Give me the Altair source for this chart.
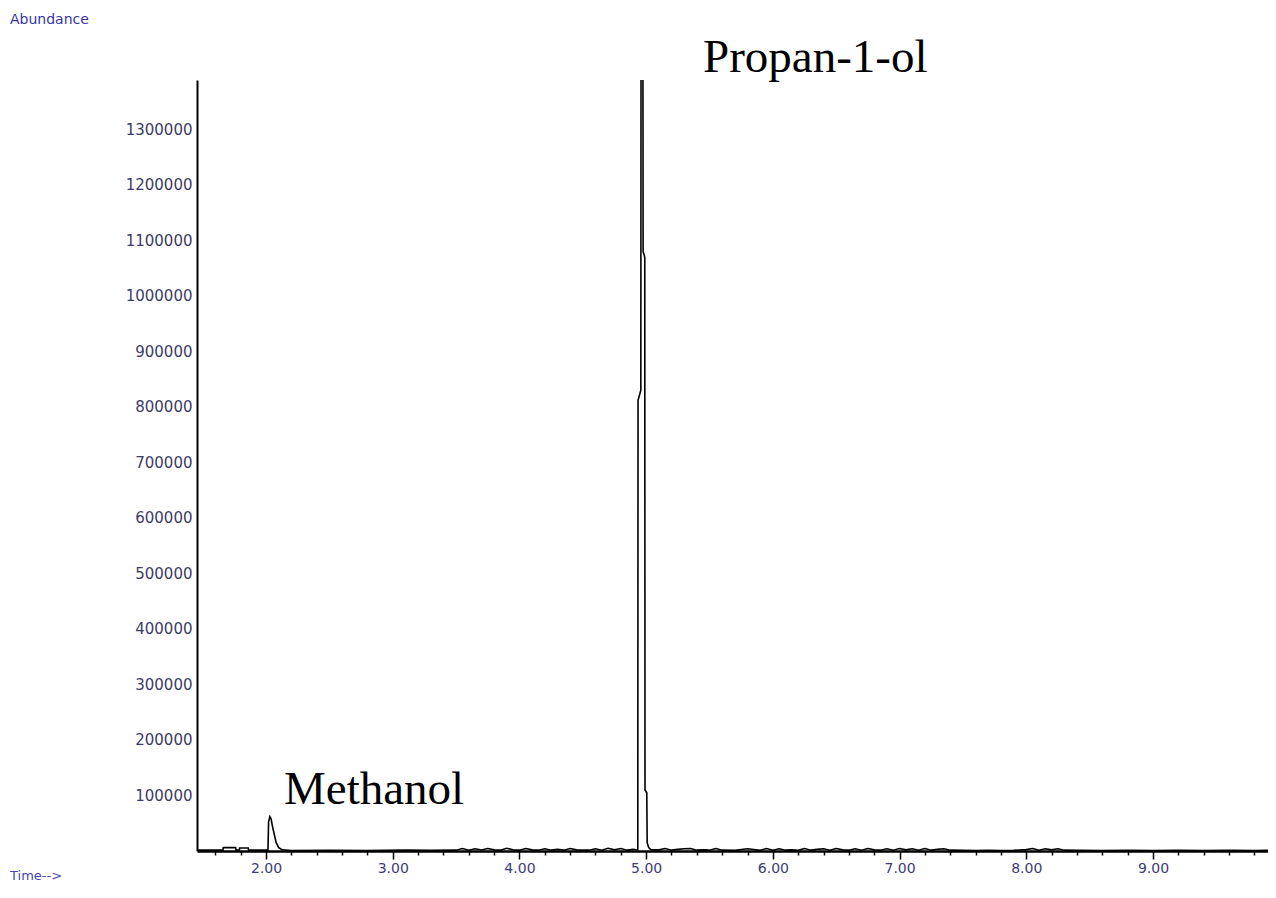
import altair as alt
import pandas as pd

# ---- chromatogram trace (retention time in min, abundance) ----
times = [
    1.455, 1.66, 1.662, 1.76, 1.762, 1.79, 1.792, 1.86, 1.862,
    2.015, 2.02, 2.03, 2.04, 2.05, 2.065, 2.08, 2.10, 2.13, 2.20,
    2.5, 2.8, 3.1, 3.3, 3.5, 3.55, 3.6, 3.65, 3.7, 3.75, 3.8, 3.85, 3.9, 3.95,
    4.0, 4.05, 4.1, 4.15, 4.2, 4.25, 4.3, 4.35, 4.4, 4.45, 4.5, 4.55, 4.6,
    4.65, 4.7, 4.75, 4.8, 4.85, 4.9, 4.934,
    4.936, 4.958, 4.960, 4.974, 4.976, 4.989, 4.991, 5.005, 5.008, 5.02, 5.04,
    5.1, 5.15, 5.2, 5.25, 5.3, 5.35, 5.4, 5.45, 5.5, 5.55, 5.6, 5.7, 5.8, 5.9,
    5.95, 6.0, 6.05, 6.1, 6.15, 6.2, 6.25, 6.3, 6.35, 6.4, 6.45, 6.5, 6.55,
    6.6, 6.65, 6.7, 6.75, 6.8, 6.85, 6.9, 6.95, 7.0, 7.05, 7.1, 7.15, 7.2,
    7.25, 7.3, 7.35, 7.4, 7.5, 7.6, 7.7, 7.8, 7.9, 8.0, 8.05, 8.1, 8.15, 8.2,
    8.25, 8.3, 8.4, 8.6, 8.8, 9.0, 9.2, 9.4, 9.6, 9.8, 9.97,
]
abundance = [
    1500, 1500, 6000, 6000, 1500, 1500, 5500, 5500, 1500,
    1500, 52000, 62000, 58000, 45000, 30000, 15000, 6000, 2000, 1000,
    1200, 1000, 1500, 1200, 1500, 4500, 1500, 4000, 1800, 4500, 2000, 1500, 5000, 2000,
    1500, 4500, 2000, 1500, 4000, 1500, 3000, 1500, 4500, 2000, 1500, 1500, 4000,
    1500, 5000, 2000, 4500, 1500, 3000, 1500,
    812000, 830000, 1600000, 1600000, 1080000, 1070000, 110000, 105000, 15000, 6000, 2000,
    2000, 4500, 1500, 3000, 4000, 4500, 1500, 2000, 1500, 4500, 1500, 1200, 4000, 1200,
    4500, 1500, 4000, 1500, 2000, 1200, 4500, 1500, 3000, 4000, 1500, 4500, 2000,
    1500, 4000, 1500, 4500, 2000, 1500, 4000, 1500, 4500, 2000, 4000, 1500, 4500,
    1500, 3000, 4000, 1500, 1200, 1000, 1200, 1000, 1200, 2500, 4500, 1500, 4000, 2000,
    4000, 1500, 1200, 1000, 1200, 1000, 1200, 1000, 1200, 1000, 1200,
]

# ---- axis ticks ----
x_tick_values = [
    1.6, 1.8, 2.0, 2.2, 2.4, 2.6, 2.8, 3.0, 3.2, 3.4, 3.6, 3.8, 4.0, 4.2, 4.4,
    4.6, 4.8, 5.0, 5.2, 5.4, 5.6, 5.8, 6.0, 6.2, 6.4, 6.6, 6.8, 7.0, 7.2, 7.4,
    7.6, 7.8, 8.0, 8.2, 8.4, 8.6, 8.8, 9.0, 9.2, 9.4, 9.6, 9.8,
]
y_tick_values = [100000, 200000, 300000, 400000, 500000, 600000, 700000,
                 800000, 900000, 1000000, 1100000, 1200000, 1300000]

# ---- peak annotations ----
peak_labels = ["Methanol", "Propan-1-ol"]
peak_label_time = [2.142, 5.449]
peak_label_abund = [83800, 1402700]

X_DOMAIN = [1.455, 9.908]
Y_DOMAIN = [0, 1389000]

trace = pd.DataFrame({"t": times, "a": abundance})
ann = pd.DataFrame({"label": peak_labels, "t": peak_label_time, "a": peak_label_abund})

is_major = "abs(datum.value - round(datum.value)) < 0.01"

x_enc = alt.X(
    "t:Q",
    scale=alt.Scale(domain=X_DOMAIN, nice=False, zero=False),
    axis=alt.Axis(
        title=None,
        values=x_tick_values,
        tickCount=200,
        labelExpr=f"{is_major} ? format(datum.value, '.2f') : ''",
        tickSize={"condition": {"test": is_major, "value": 8}, "value": 4},
        tickColor="black",
        tickWidth=1.5,
        domainColor="black",
        domainWidth=2.5,
        labelFont="DejaVu Sans",
        labelFontSize=14,
        labelColor="#3c3c78",
        labelPadding=2,
        labelOverlap=False,
        labelFlush=False,
        grid=False,
    ),
)
y_enc = alt.Y(
    "a:Q",
    scale=alt.Scale(domain=Y_DOMAIN, nice=False, zero=True),
    axis=alt.Axis(
        title=None,
        values=y_tick_values,
        tickCount=200,
        format="d",
        ticks=False,
        domainColor="black",
        domainWidth=2,
        labelFont="DejaVu Sans",
        labelFontSize=15,
        labelColor="#3c3c66",
        labelPadding=5,
        labelOverlap=False,
        grid=False,
    ),
)

line = alt.Chart(trace).mark_line(
    color="black", strokeWidth=1.6, clip=True, interpolate="linear"
).encode(x=x_enc, y=y_enc, order="t:Q")

labels = alt.Chart(ann).mark_text(
    font="Liberation Serif", fontSize=47, color="black",
    align="left", baseline="alphabetic",
).encode(x="t:Q", y="a:Q", text="label:N")

abund_title = alt.Chart(pd.DataFrame({"txt": ["Abundance"]})).mark_text(
    font="DejaVu Sans", fontSize=14, color="#3535a5",
    align="left", baseline="middle",
).encode(x=alt.value(-187), y=alt.value(-60), text="txt:N")

time_title = alt.Chart(pd.DataFrame({"txt": ["Time-->"]})).mark_text(
    font="DejaVu Sans", fontSize=13, color="#4545b5",
    align="left", baseline="bottom",
).encode(x=alt.value(-187), y=alt.value(803), text="txt:N")

chart = alt.layer(line, labels, abund_title, time_title).properties(
    width=1071,
    height=771,
    padding={"left": 189, "top": 72, "right": 0, "bottom": 33},
    autosize=alt.AutoSizeParams(type="none"),
    background="white",
).configure_view(stroke=None)

chart.save("out.html", embed_options={"renderer": "svg", "actions": False})
